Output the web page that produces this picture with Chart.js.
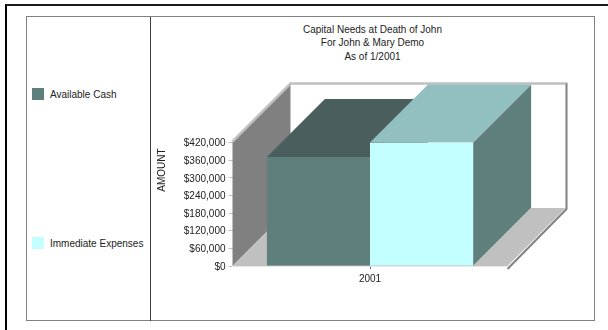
<!DOCTYPE html>
<html lang="en">
<head>
    <meta charset="UTF-8">
    <title>Capital Needs at Death of John</title>
    <style>
        html, body {
            margin: 0;
            padding: 0;
            background: #ffffff;
            overflow: hidden;
        }
        body {
            width: 608px;
            height: 330px;
            position: relative;
            font-family: 'Liberation Sans', Arial, sans-serif;
            font-size: 10px;
            color: #222222;
        }
        .page-edge {
            position: absolute;
            left: 5px;
            top: 4px;
            width: 603px;
            height: 326px;
            border-left: 2px solid #000000;
            border-top: 2px solid #1c1c1c;
            box-sizing: border-box;
        }
        .frame {
            position: absolute;
            left: 26px;
            top: 16px;
            width: 569px;
            height: 305px;
            border: 1px solid #808080;
            box-sizing: border-box;
        }
        .divider {
            position: absolute;
            left: 150px;
            top: 17px;
            width: 1px;
            height: 304px;
            background: #404040;
        }
        .legend-item {
            position: absolute;
            left: 32px;
            height: 12px;
            line-height: 14px;
            white-space: nowrap;
        }
        .legend-item span {
            display: inline-block;
            width: 12px;
            height: 12px;
            margin-right: 6px;
            vertical-align: top;
        }
        #heading {
            position: absolute;
            left: 151px;
            top: 23px;
            width: 443px;
            text-align: center;
            line-height: 13.3px;
        }
        #chartBox {
            position: absolute;
            left: 151px;
            top: 17px;
        }
    </style>
</head>
<body>
    <div class="page-edge"></div>
    <div class="frame"></div>
    <div class="divider"></div>
    <div id="legend"></div>
    <div id="heading"></div>
    <canvas id="chartBox" width="443" height="303"></canvas>

    <script src="https://cdn.jsdelivr.net/npm/chart.js"></script>
    <script>
        const titleLines = ['Capital Needs at Death of John', 'For John & Mary Demo', 'As of 1/2001'];
        const categories = ['2001'];
        const seriesNames = ['Available Cash', 'Immediate Expenses'];
        const availableCash = [371000];
        const immediateExpenses = [420000];
        const tickValues = [0, 60000, 120000, 180000, 240000, 300000, 360000, 420000];

        const frontColors = ['#5f7f7d', '#c4ffff'];
        const topColors = ['#4a5f5d', '#92bfbf'];
        const sideColor = '#5f7f7d';
        const legendTops = [88, 237];
        const depth = 58;

        // heading centred over the right panel
        const heading = document.getElementById('heading');
        titleLines.forEach(text => {
            const row = document.createElement('div');
            row.textContent = text;
            heading.appendChild(row);
        });

        // legend panel on the left
        const legend = document.getElementById('legend');
        seriesNames.forEach((name, i) => {
            const item = document.createElement('div');
            item.className = 'legend-item';
            item.style.top = legendTops[i] + 'px';
            const swatch = document.createElement('span');
            swatch.style.background = frontColors[i];
            item.appendChild(swatch);
            item.appendChild(document.createTextNode(name));
            legend.appendChild(item);
        });

        function poly(ctx, color, pts) {
            ctx.fillStyle = color;
            ctx.beginPath();
            pts.forEach((p, i) => i ? ctx.lineTo(p[0], p[1]) : ctx.moveTo(p[0], p[1]));
            ctx.closePath();
            ctx.fill();
        }

        function line(ctx, color, width, pts) {
            ctx.strokeStyle = color;
            ctx.lineWidth = width;
            ctx.beginPath();
            pts.forEach((p, i) => i ? ctx.lineTo(p[0], p[1]) : ctx.moveTo(p[0], p[1]));
            ctx.stroke();
        }

        // walls, floor and the extruded faces of the bars, all under the front faces
        const box3d = {
            id: 'box3d',
            beforeDatasetsDraw(chart) {
                const ctx = chart.ctx;
                const a = chart.chartArea;
                ctx.save();
                poly(ctx, '#808080', [[a.left, a.top], [a.left + depth, a.top - depth],
                    [a.left + depth, a.bottom - depth], [a.left, a.bottom]]);
                poly(ctx, '#c0c0c0', [[a.left, a.bottom], [a.left + depth, a.bottom - depth],
                    [a.right + depth, a.bottom - depth], [a.right, a.bottom]]);
                line(ctx, '#c0c0c0', 2.5, [[a.left, a.top - 1], [a.left + depth, a.top - depth - 1],
                    [a.right + depth + 2, a.top - depth - 1]]);
                line(ctx, '#808080', 2, [[a.right + depth + 1, a.top - depth - 1],
                    [a.right + depth + 1, a.bottom - depth + 1], [a.right, a.bottom + 3]]);

                chart.data.datasets.forEach((ds, i) => {
                    const bar = chart.getDatasetMeta(i).data[0];
                    const left = bar.x - bar.width / 2;
                    const right = bar.x + bar.width / 2;
                    poly(ctx, sideColor, [[right, bar.y], [right + depth, bar.y - depth],
                        [right + depth, bar.base - depth], [right, bar.base]]);
                    poly(ctx, topColors[i], [[left, bar.y], [left + depth, bar.y - depth],
                        [right + depth, bar.y - depth], [right, bar.y]]);
                });
                ctx.restore();
            },
            afterDraw(chart) {
                // axis name sits beside the upper ticks, not centred on the axis
                const ctx = chart.ctx;
                ctx.save();
                ctx.translate(11, 153);
                ctx.rotate(-Math.PI / 2);
                ctx.font = "10px 'Liberation Sans'";
                ctx.fillStyle = '#222222';
                ctx.textAlign = 'center';
                ctx.textBaseline = 'middle';
                ctx.fillText('AMOUNT', 0, 0);
                ctx.restore();
            }
        };

        new Chart(document.getElementById('chartBox').getContext('2d'), {
            type: 'bar',
            data: {
                labels: categories,
                datasets: [
                    { label: seriesNames[0], data: availableCash, backgroundColor: frontColors[0] },
                    { label: seriesNames[1], data: immediateExpenses, backgroundColor: frontColors[1] }
                ]
            },
            plugins: [box3d],
            options: {
                responsive: false,
                animation: false,
                layout: { padding: { left: 0, right: 86.5, top: 125.5, bottom: 34 } },
                datasets: { bar: { barPercentage: 1, categoryPercentage: 0.75 } },
                plugins: {
                    legend: { display: false },
                    tooltip: { enabled: false }
                },
                scales: {
                    x: {
                        afterFit(scale) { scale.height = 20; },
                        border: { color: '#e8e8e8' },
                        grid: { offset: false, drawOnChartArea: false, tickLength: 3, tickColor: '#606060' },
                        ticks: {
                            color: '#222222',
                            padding: 4,
                            font: { family: 'Liberation Sans', size: 10 }
                        }
                    },
                    y: {
                        min: 0,
                        max: 420000,
                        afterFit(scale) { scale.width = 81.5; },
                        afterBuildTicks(scale) { scale.ticks = tickValues.map(v => ({ value: v })); },
                        border: { display: false },
                        grid: { drawOnChartArea: false, tickLength: 4, tickColor: '#c0c0c0' },
                        ticks: {
                            color: '#222222',
                            padding: 3,
                            labelOffset: 1,
                            font: { family: 'Liberation Sans', size: 10 },
                            callback: v => '$' + v.toLocaleString('en-US')
                        }
                    }
                }
            }
        });
    </script>
</body>
</html>
